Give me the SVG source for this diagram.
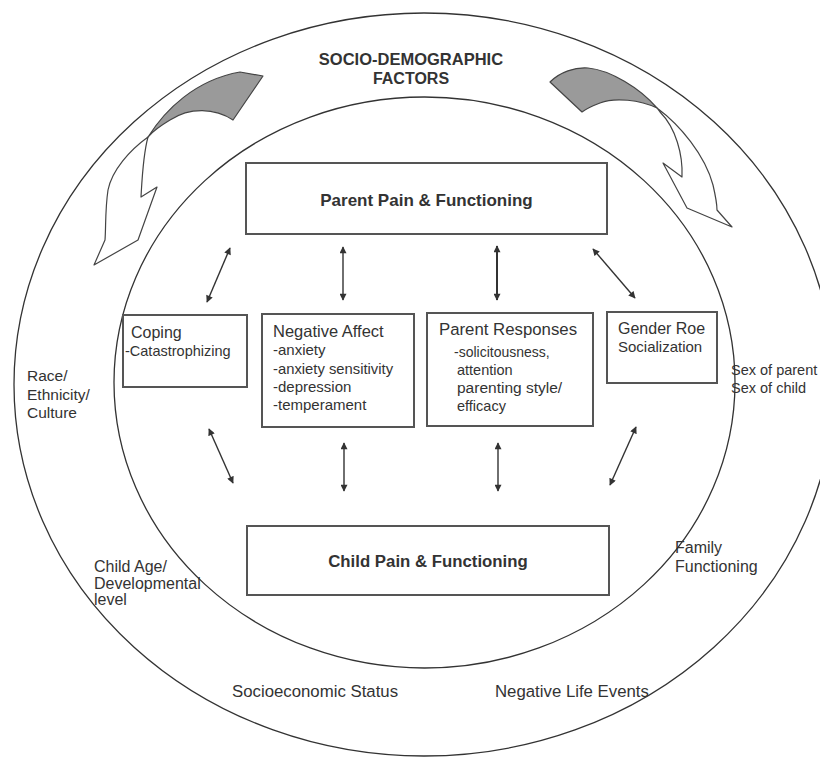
<svg xmlns="http://www.w3.org/2000/svg" width="820" height="758" viewBox="0 0 820 758">
<style>
.ring{fill:none;stroke:#333;stroke-width:1.3}
.box{fill:#fff;stroke:#555;stroke-width:2}
.t{font-family:"Liberation Sans",Arial,sans-serif;fill:#333}
.b{font-weight:bold}
.sub{font-size:14.5px}
.lab{font-size:16px}
.conn line{stroke:#333;stroke-width:1.4;marker-start:url(#ah);marker-end:url(#ah)}
.gray{fill:#9a9a9a;stroke:#444;stroke-width:1.2;stroke-linejoin:round}
.hollow{fill:#fff;stroke:#444;stroke-width:1.2;stroke-linejoin:round}
</style>
<defs>
<marker id="ah" viewBox="0 0 10 10" refX="9" refY="5" markerWidth="8" markerHeight="7" markerUnits="userSpaceOnUse" orient="auto-start-reverse">
<path d="M0,0 L10,5 L0,10 z" fill="#333"/>
</marker>
</defs>
<rect width="820" height="758" fill="#fff"/>

<g id="rings">
<ellipse class="ring" cx="424" cy="384.5" rx="410" ry="371.5"/>
<ellipse class="ring" cx="424.5" cy="382.5" rx="310.5" ry="285.5"/>
</g>

<g id="cycle-arrows">
<path class="hollow" d="M148,137 C130,150 112,170 108,190 C105,210 106,228 105,240 L94,265 L138,240 L157,187 L141,197 C142,180 143,155 148,137 Z"/>
<path class="gray" d="M148,137 C165,110 195,80 240,72 L263,76 L233,120 C215,108 190,107 170,120 C160,126 153,131 148,137 Z"/>
<path class="hollow" d="M657,108 C680,125 705,155 713,185 C716,198 717,205 717,210 L732,227 L687,208 L663,163 L682,177 C683,155 676,128 660,112 Z"/>
<path class="gray" d="M550,82 C560,72 575,67 588,68 C610,70 640,88 657,108 C640,100 615,97 600,103 C592,106 586,109 582,112 Z"/>
</g>

<g id="title">
<text class="t b" x="411" y="65" font-size="16.5" text-anchor="middle">SOCIO-DEMOGRAPHIC</text>
<text class="t b" x="411" y="84" font-size="16" text-anchor="middle">FACTORS</text>
</g>

<g id="parent-pain">
<rect class="box" x="246" y="163" width="361" height="71"/>
<text class="t b" x="426.5" y="206" font-size="17" text-anchor="middle">Parent Pain &amp; Functioning</text>
</g>

<g id="child-pain">
<rect class="box" x="247" y="526" width="362" height="69"/>
<text class="t b" x="428" y="567" font-size="16.8" text-anchor="middle">Child Pain &amp; Functioning</text>
</g>

<g id="coping">
<rect class="box" x="123" y="315" width="124" height="72"/>
<text class="t" x="131" y="338" font-size="16">Coping</text>
<text class="t sub" x="125" y="356">-Catastrophizing</text>
</g>

<g id="negative-affect">
<rect class="box" x="262" y="314" width="152" height="113"/>
<text class="t" x="273" y="337" font-size="16.5">Negative Affect</text>
<text class="t" x="273" y="355" font-size="15">-anxiety</text>
<text class="t" x="273" y="374" font-size="14.8">-anxiety sensitivity</text>
<text class="t" x="273" y="392" font-size="15">-depression</text>
<text class="t" x="273" y="410" font-size="15">-temperament</text>
</g>

<g id="parent-responses">
<rect class="box" x="427" y="313" width="166" height="113"/>
<text class="t" x="439" y="335" font-size="16.8">Parent Responses</text>
<text class="t" x="454" y="357" font-size="14">-solicitousness,</text>
<text class="t sub" x="457" y="375">attention</text>
<text class="t" x="457" y="393" font-size="15.5">parenting style/</text>
<text class="t sub" x="457" y="411">efficacy</text>
</g>

<g id="gender-role">
<rect class="box" x="607" y="312" width="110" height="71"/>
<text class="t" x="618" y="334" font-size="16">Gender Roe</text>
<text class="t" x="618" y="352" font-size="15">Socialization</text>
</g>

<g id="race">
<text class="t" x="27" y="381" font-size="15.5">Race/</text>
<text class="t" x="27" y="400" font-size="15.5">Ethnicity/</text>
<text class="t" x="27" y="418" font-size="15.5">Culture</text>
</g>

<g id="sex">
<text class="t" x="731" y="375" font-size="14.5">Sex of parent</text>
<text class="t" x="731" y="393" font-size="14.5">Sex of child</text>
</g>

<g id="child-age">
<text class="t lab" x="94" y="572">Child Age/</text>
<text class="t lab" x="94" y="589">Developmental</text>
<text class="t lab" x="94" y="605">level</text>
</g>

<g id="family">
<text class="t lab" x="675" y="553">Family</text>
<text class="t lab" x="675" y="572">Functioning</text>
</g>

<g id="ses">
<text class="t" x="232" y="697" font-size="16.8">Socioeconomic Status</text>
</g>

<g id="life-events">
<text class="t" x="495" y="697" font-size="16.8">Negative Life Events</text>
</g>

<g id="connectors" class="conn">
<line x1="230" y1="248" x2="207" y2="302"/>
<line x1="343" y1="247" x2="343" y2="300"/>
<line x1="497" y1="246" x2="497" y2="300" style="stroke-width:2"/>
<line x1="593" y1="249" x2="635" y2="298"/>
<line x1="209" y1="429" x2="233" y2="483"/>
<line x1="344" y1="443" x2="344" y2="491"/>
<line x1="498" y1="443" x2="498" y2="491"/>
<line x1="636" y1="427" x2="610" y2="485"/>
</g>
</svg>
